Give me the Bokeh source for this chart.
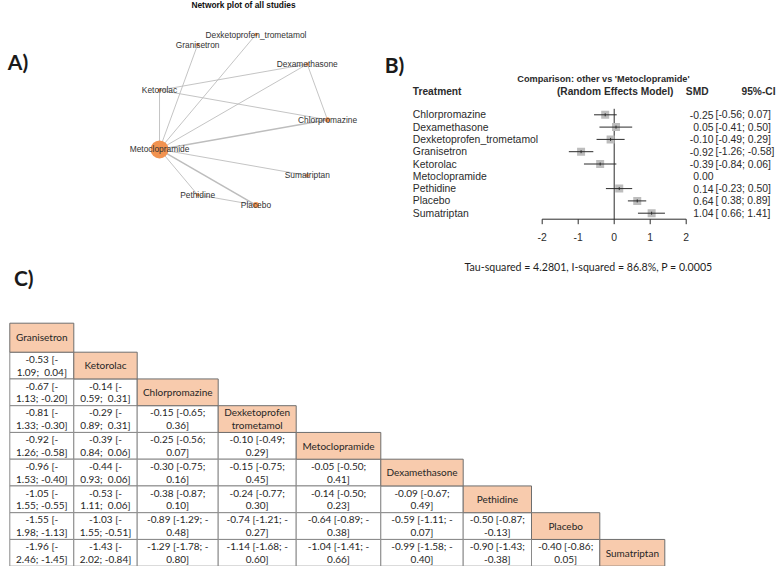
import math
from bokeh.plotting import figure
from bokeh.models import Range1d
from bokeh.core.properties import value
from bokeh.embed import file_html
from bokeh.resources import INLINE

NB = "\u00a0"  # keeps padded spaces visible in SVG text

# ---------------- data ----------------
# A) network plot (nodes in circular-layout order)
net_nodes = ["Chlorpromazine", "Sumatriptan", "Placebo", "Pethidine", "Metoclopramide",
             "Ketorolac", "Granisetron", "Dexketoprofen_trometamol", "Dexamethasone"]
edge_from = ["Metoclopramide"] * 8 + ["Ketorolac", "Ketorolac", "Dexamethasone", "Pethidine"]
edge_to = ["Granisetron", "Dexketoprofen_trometamol", "Dexamethasone", "Ketorolac",
           "Chlorpromazine", "Sumatriptan", "Pethidine", "Placebo",
           "Dexamethasone", "Chlorpromazine", "Chlorpromazine", "Placebo"]
edge_studies = [1, 1, 1, 1, 2, 1, 1, 2, 1, 1, 1, 1]

# B) forest plot: other vs 'Metoclopramide'
fp_treat = ["Chlorpromazine", "Dexamethasone", "Dexketoprofen_trometamol", "Granisetron",
            "Ketorolac", "Metoclopramide", "Pethidine", "Placebo", "Sumatriptan"]
fp_smd = [-0.25, 0.05, -0.10, -0.92, -0.39, 0.00, 0.14, 0.64, 1.04]
fp_lo = [-0.56, -0.41, -0.49, -1.26, -0.84, None, -0.23, 0.38, 0.66]
fp_hi = [0.07, 0.50, 0.29, -0.58, 0.06, None, 0.50, 0.89, 1.41]
fp_ticks = [-2, -1, 0, 1, 2]
fp_stats = "Tau-squared = 4.2801, I-squared = 86.8%, P = 0.0005"

# C) league table
league_treat = ["Granisetron", "Ketorolac", "Chlorpromazine", "Dexketoprofen\ntrometamol",
                "Metoclopramide", "Dexamethasone", "Pethidine", "Placebo", "Sumatriptan"]
league_est = [[], [-0.53], [-0.67, -0.14], [-0.81, -0.29, -0.15],
              [-0.92, -0.39, -0.25, -0.10], [-0.96, -0.44, -0.30, -0.15, -0.05],
              [-1.05, -0.53, -0.38, -0.24, -0.14, -0.09],
              [-1.55, -1.03, -0.89, -0.74, -0.64, -0.59, -0.50],
              [-1.96, -1.43, -1.29, -1.14, -1.04, -0.99, -0.90, -0.40]]
league_lo = [[], [-1.09], [-1.13, -0.59], [-1.33, -0.89, -0.65],
             [-1.26, -0.84, -0.56, -0.49], [-1.53, -0.93, -0.75, -0.75, -0.50],
             [-1.55, -1.11, -0.87, -0.77, -0.50, -0.67],
             [-1.98, -1.55, -1.29, -1.21, -0.89, -1.11, -0.87],
             [-2.46, -2.02, -1.78, -1.68, -1.41, -1.58, -1.43, -0.86]]
league_hi = [[], [0.04], [-0.20, 0.31], [-0.30, 0.31, 0.36],
             [-0.58, 0.06, 0.07, 0.29], [-0.40, 0.06, 0.16, 0.45, 0.41],
             [-0.55, 0.06, 0.10, 0.30, 0.23, 0.49],
             [-1.13, -0.51, -0.48, -0.27, -0.38, -0.07, -0.13],
             [-1.45, -0.84, -0.80, -0.60, -0.66, -0.40, -0.38, 0.05]]

# ---------------- figure ----------------
W, H = 778, 566
p = figure(width=W, height=H, x_range=Range1d(0, W), y_range=Range1d(H, 0),
           toolbar_location=None, output_backend="svg", min_border=0,
           x_axis_location=None, y_axis_location=None)
p.grid.visible = False
p.outline_line_color = None
p.background_fill_color = "white"
p.border_fill_color = "white"

ARIAL = value("Liberation Sans")
CAL = value("Lato")

# panel letters
p.text(x=[17.5, 394, 23.3], y=[61, 64, 276.5], text=["A)", "B)", "C)"], text_font=CAL,
       text_font_style="bold", text_font_size="21px", text_align="center",
       text_baseline="middle", text_color="#1a1a1a")

# ---------------- A) network ----------------
p.text(x=[243], y=[4.5], text=["Network plot of all studies"], text_font=ARIAL,
       text_font_style="bold", text_font_size="8.4px", text_align="center",
       text_baseline="middle", text_color="#111111")

cx, cy, rad = 240.4, 119.3, 86.6
step = 360.0 / len(net_nodes)
pos = {}
for k, name in enumerate(net_nodes):
    a = math.radians(-step * k)
    pos[name] = (cx + rad * math.cos(a), cy - rad * math.sin(a))

p.segment(x0=[pos[a][0] for a in edge_from], y0=[pos[a][1] for a in edge_from],
          x1=[pos[b][0] for b in edge_to], y1=[pos[b][1] for b in edge_to],
          line_color="#bdbdbd", line_width=[0.9 + 0.6 * (s - 1) for s in edge_studies])

node_px = {"Metoclopramide": 18, "Placebo": 6, "Chlorpromazine": 5}
p.scatter(x=[pos[n][0] for n in net_nodes], y=[pos[n][1] for n in net_nodes],
          size=[node_px.get(n, 3.5) for n in net_nodes], marker="circle",
          fill_color="#f29350", line_color=None)
p.text(x=[pos[n][0] for n in net_nodes], y=[pos[n][1] for n in net_nodes], text=net_nodes,
       text_font=ARIAL, text_font_size="8.4px", text_align="center",
       text_baseline="middle", text_color="#333333")

# ---------------- B) forest ----------------
# -2 -> 541.7 px, 2 -> 685.7 px (36 px per unit)
u = 36.0
p.extra_x_ranges = {"smd": Range1d(-2 - 541.7 / u, -2 + (W - 541.7) / u)}
fy = [114.3 + 12.3 * k for k in range(len(fp_treat))]
axis_y = 218.7
FC = "#2b2b2b"

p.segment(x0=[0], x1=[0], y0=[fy[0] - 6], y1=[axis_y], x_range_name="smd",
          line_color=FC, line_width=1)
p.segment(x0=[fp_ticks[0]], x1=[fp_ticks[-1]], y0=[axis_y], y1=[axis_y],
          x_range_name="smd", line_color=FC, line_width=1)
p.segment(x0=fp_ticks, x1=fp_ticks, y0=[axis_y] * len(fp_ticks),
          y1=[axis_y + 5] * len(fp_ticks), x_range_name="smd", line_color=FC, line_width=1)
p.text(x=fp_ticks, y=[236.7] * len(fp_ticks), text=[str(t) for t in fp_ticks],
       x_range_name="smd", text_font=ARIAL, text_font_size="10.4px", text_align="center",
       text_baseline="middle", text_color=FC)

idx = [i for i in range(len(fp_treat)) if fp_lo[i] is not None]
p.scatter(x=[fp_smd[i] for i in idx], y=[fy[i] for i in idx], marker="square", size=8,
          fill_color="#bdbdbd", line_color=None, x_range_name="smd")
p.segment(x0=[fp_lo[i] for i in idx], x1=[fp_hi[i] for i in idx],
          y0=[fy[i] for i in idx], y1=[fy[i] for i in idx],
          x_range_name="smd", line_color=FC, line_width=1)
p.segment(x0=[fp_smd[i] for i in idx], x1=[fp_smd[i] for i in idx],
          y0=[fy[i] - 1.5 for i in idx], y1=[fy[i] + 1.5 for i in idx],
          x_range_name="smd", line_color=FC, line_width=1)

p.text(x=[412.3] * len(fp_treat), y=fy, text=fp_treat, text_font=ARIAL,
       text_font_size="10.4px", text_align="left", text_baseline="middle", text_color=FC)
p.text(x=[713] * len(fp_treat), y=fy, text=[f"{v:.2f}" for v in fp_smd], text_font=ARIAL,
       text_font_size="10.4px", text_align="right", text_baseline="middle", text_color=FC)
ci_txt = [("" if lo is None else f"[{lo:5.2f}; {hi:.2f}]".replace(" ", NB))
          for lo, hi in zip(fp_lo, fp_hi)]
p.text(x=[715] * len(fp_treat), y=fy, text=ci_txt, text_font=ARIAL,
       text_font_size="10.4px", text_align="left", text_baseline="middle", text_color=FC)

p.text(x=[603], y=[78.3], text=["Comparison: other vs 'Metoclopramide'"], text_font=ARIAL,
       text_font_style="bold", text_font_size="9.2px", text_align="center",
       text_baseline="middle", text_color=FC)
p.text(x=[412.3], y=[90.7], text=["Treatment"], text_font=ARIAL, text_font_style="bold",
       text_font_size="10.2px", text_align="left", text_baseline="middle", text_color=FC)
p.text(x=[673], y=[90.7], text=["(Random Effects Model)"], text_font=ARIAL,
       text_font_style="bold", text_font_size="10.2px", text_align="right",
       text_baseline="middle", text_color=FC)
p.text(x=[708], y=[90.7], text=["SMD"], text_font=ARIAL, text_font_style="bold",
       text_font_size="10.2px", text_align="right", text_baseline="middle", text_color=FC)
p.text(x=[775], y=[90.7], text=["95%-CI"], text_font=ARIAL, text_font_style="bold",
       text_font_size="10.2px", text_align="right", text_baseline="middle", text_color=FC)
p.text(x=[588], y=[266], text=[fp_stats], text_font=CAL, text_font_size="10.6px",
       text_align="center", text_baseline="middle", text_color="#1f1f1f")

# ---------------- C) league table ----------------
col_edges = [9.3, 73.3, 136.7, 217.7, 295.7, 380.3, 462.7, 531.0, 599.3, 664.3]
row_edges = [322.7, 351.7] + [351.7 + 26.75 * k for k in range(1, 9)]


def cell_text(est, lo, hi, col):
    e = f"{est:.2f}"
    if col <= 1:
        hs = f"{hi:.2f}" if hi < 0 else f"{NB}{hi:.2f}"
        return f"{e} [-\n{abs(lo):.2f}; {hs}]"
    if col >= 6:
        return f"{e} [{lo:.2f};\n{hi:.2f}]"
    if hi < 0:
        return f"{e} [{lo:.2f}; -\n{abs(hi):.2f}]"
    return f"{e} [{lo:.2f};\n{hi:.2f}]"


hl, hr, ht, hb = [], [], [], []
dl, dr, dt, db = [], [], [], []
tx, ty, tt = [], [], []   # single-line texts (one entry per printed line)
for i in range(len(league_treat)):
    for j in range(i + 1):
        l, r, t, b = col_edges[j], col_edges[j + 1], row_edges[i], row_edges[i + 1]
        if i == j:
            hl.append(l); hr.append(r); ht.append(t); hb.append(b)
            s = league_treat[i]
        else:
            dl.append(l); dr.append(r); dt.append(t); db.append(b)
            s = cell_text(league_est[i][j], league_lo[i][j], league_hi[i][j], j)
        lines = s.split("\n")
        mid = (t + b) / 2 - 0.3
        n = len(lines)
        for m, ln in enumerate(lines):
            tx.append((l + r) / 2)
            ty.append(mid + (m - (n - 1) / 2) * 12.6)
            tt.append(ln)

p.quad(left=dl, right=dr, top=dt, bottom=db, fill_color="white",
       line_color="#8a8a8a", line_width=1)
p.quad(left=hl, right=hr, top=ht, bottom=hb, fill_color="#f8cbad",
       line_color="#6e6e6e", line_width=1)
p.text(x=tx, y=ty, text=tt, text_font=CAL, text_font_size="10px", text_align="center",
       text_baseline="middle", text_color="#262626")

open("out.html", "w").write(file_html(p, INLINE))
